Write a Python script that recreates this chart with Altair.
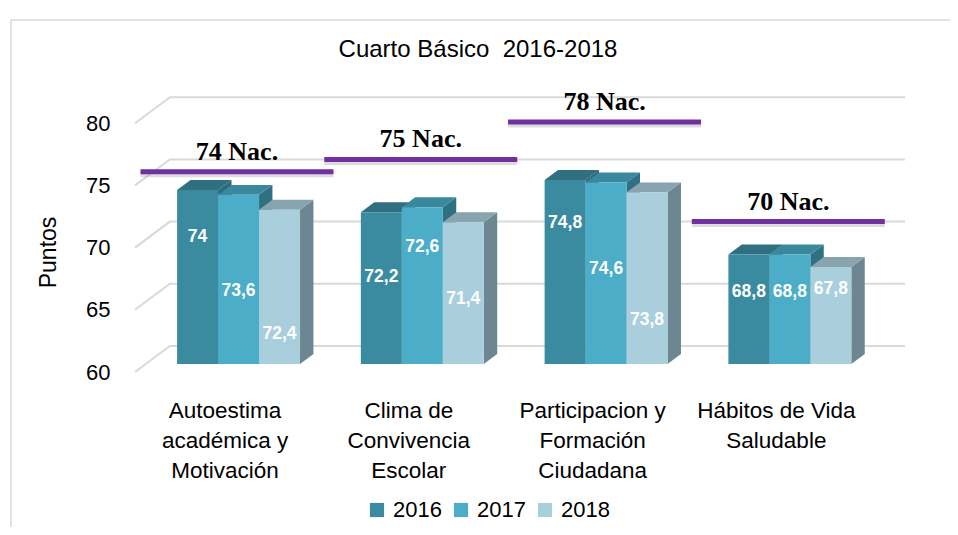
import altair as alt
import pandas as pd

# ---------------- data ----------------
category_lines = [
    "Autoestima\nacadémica y\nMotivación",
    "Clima de\nConvivencia\nEscolar",
    "Participacion y\nFormación\nCiudadana",
    "Hábitos de Vida\nSaludable",
]
years = ["2016", "2017", "2018"]
values_2016 = [74.0, 72.2, 74.8, 68.8]
values_2017 = [73.6, 72.6, 74.6, 68.8]
values_2018 = [72.4, 71.4, 73.8, 67.8]
value_text_2016 = ["74", "72,2", "74,8", "68,8"]
value_text_2017 = ["73,6", "72,6", "74,6", "68,8"]
value_text_2018 = ["72,4", "71,4", "73,8", "67,8"]
# height (in points) at which each value label sits inside its bar
label_at_2016 = [70.2, 67.0, 71.3, 65.8]
label_at_2017 = [65.9, 69.4, 67.6, 65.8]
label_at_2018 = [62.4, 65.2, 63.5, 66.0]
nac_values = [74, 75, 78, 70]
nac_labels = ["74 Nac.", "75 Nac.", "78 Nac.", "70 Nac."]
y_ticks = [60, 65, 70, 75, 80]
title_text = "Cuarto Básico\u00a0 2016-2018"

# ---------------- style / 3D geometry ----------------
SANS = "Liberation Sans, Arial, sans-serif"
SERIF = "Liberation Serif, Times New Roman, serif"
front_col = {"2016": "#3B8BA0", "2017": "#4BADC7", "2018": "#A9CFDD"}
top_col = {"2016": "#2F6F80", "2017": "#3A889D", "2018": "#88A4AE"}
side_col = {"2016": "#2D6A7A", "2017": "#2F7083", "2018": "#6C8692"}
Y0, YMAX, XMAX = 60, 85, 4.19
PLANE_DX, PLANE_DY = 0.06, 0.64      # bar plane offset from floor front
WALL_DX, WALL_DY = 0.19, 2.09        # back wall offset
DEPTH_DX, DEPTH_DY = 0.073, 0.8      # bar depth
GROUP_START, BAR_W = 0.169, 0.223

series_vals = {"2016": values_2016, "2017": values_2017, "2018": values_2018}
series_txt = {"2016": value_text_2016, "2017": value_text_2017, "2018": value_text_2018}
series_lab = {"2016": label_at_2016, "2017": label_at_2017, "2018": label_at_2018}

xs = alt.Scale(domain=[0, XMAX], nice=False, zero=False)
ys = alt.Scale(domain=[Y0, YMAX], nice=False, zero=False)
yaxis = alt.Axis(values=y_ticks, title="Puntos", domain=False, ticks=False, grid=False,
                 labelPadding=25, labelFont=SANS, labelFontSize=22, labelColor="#000000",
                 titleFont=SANS, titleFontSize=23, titleFontWeight="normal", titleColor="#000000",
                 titleX=-87, titleY=191, titleBaseline="middle")


def X(f):
    return alt.X(f"{f}:Q", scale=xs, axis=None)


def Y(f):
    return alt.Y(f"{f}:Q", scale=ys, axis=yaxis)


# gridlines (floor diagonal + back wall)
grid_rows = []
for t in y_ticks:
    grid_rows += [
        {"t": t, "x": 0, "y": t},
        {"t": t, "x": WALL_DX, "y": t + WALL_DY},
        {"t": t, "x": XMAX, "y": t + WALL_DY},
    ]
grid = alt.Chart(pd.DataFrame(grid_rows)).mark_line(color="#D9D9D9", strokeWidth=2).encode(
    x=X("x"), y=Y("y"), detail="t:N", order="x:Q")

one = pd.DataFrame({"a": [0]})
frame_top = alt.Chart(one).mark_rule(stroke="#D9D9D9", strokeWidth=1.5).encode(
    x=alt.value(-124), x2=alt.value(1000), y=alt.value(-41))
frame_left = alt.Chart(one).mark_rule(stroke="#D9D9D9", strokeWidth=1.5).encode(
    x=alt.value(-124), y=alt.value(-41), y2=alt.value(600))
title = alt.Chart(pd.DataFrame({"t": [title_text]})).mark_text(
    font=SANS, fontSize=24, color="#000000", baseline="alphabetic", align="center").encode(
    x=alt.value(343), y=alt.value(-4), text="t:N")

layers = [frame_top, frame_left, title, grid]
label_rows = []
for j, yr in enumerate(years):
    fr, tp, sd = [], [], []
    for i, v in enumerate(series_vals[yr]):
        xl = i + GROUP_START + j * BAR_W + PLANE_DX
        xr = xl + BAR_W
        b = Y0 + PLANE_DY
        h = v + PLANE_DY
        bid = f"b{j}{i}"
        fr.append({"x": xl, "x2": xr, "y": b, "y2": h, "year": yr})
        sd += [
            {"bid": bid, "px": xr, "lo": b, "hi": h},
            {"bid": bid, "px": xr + DEPTH_DX, "lo": b + DEPTH_DY, "hi": h + DEPTH_DY},
        ]
        tp += [
            {"bid": bid, "px": xl, "lo": h, "hi": h},
            {"bid": bid, "px": xl + DEPTH_DX, "lo": h, "hi": h + DEPTH_DY},
            {"bid": bid, "px": xr, "lo": h, "hi": h + DEPTH_DY},
            {"bid": bid, "px": xr + DEPTH_DX, "lo": h + DEPTH_DY, "hi": h + DEPTH_DY},
        ]
        label_rows.append({"x": (xl + xr) / 2, "y": series_lab[yr][i] + PLANE_DY,
                           "txt": series_txt[yr][i]})
    side = alt.Chart(pd.DataFrame(sd)).mark_area(color=side_col[yr], opacity=1).encode(
        x=X("px"), y=Y("lo"), y2="hi:Q", detail="bid:N")
    top = alt.Chart(pd.DataFrame(tp)).mark_area(color=top_col[yr], opacity=1).encode(
        x=X("px"), y=Y("lo"), y2="hi:Q", detail="bid:N")
    front = alt.Chart(pd.DataFrame(fr)).mark_rect().encode(
        x=X("x"), x2="x2:Q", y=Y("y"), y2="y2:Q",
        color=alt.Color("year:N", scale=alt.Scale(domain=years, range=[front_col[y] for y in years]),
                        legend=alt.Legend(orient="none", legendX=231, legendY=438, direction="horizontal",
                                          title=None, symbolType="square", symbolSize=200,
                                          symbolStrokeWidth=0, labelFont=SANS, labelFontSize=22,
                                          labelColor="#000000", columnPadding=8, labelOffset=5,
                                          padding=0)))
    layers += [side, top, front]

nac_df = pd.DataFrame({
    "x": [i + 0.03 for i in range(4)],
    "x2": [i + 1.08 for i in range(4)],
    "xc": [i + 0.555 for i in range(4)],
    "y": [v + WALL_DY for v in nac_values],
    "ys": [v + WALL_DY - 0.2 for v in nac_values],
    "label": nac_labels,
})
nac_shadow = alt.Chart(nac_df).mark_rule(color="#9A9A9A", strokeWidth=6, opacity=0.35).encode(
    x=X("x"), x2="x2:Q", y=Y("ys"))
nac_line = alt.Chart(nac_df).mark_rule(color="#7030A0", strokeWidth=5).encode(
    x=X("x"), x2="x2:Q", y=Y("y"))
nac_text = alt.Chart(nac_df).mark_text(font=SERIF, fontSize=26, fontWeight="bold", color="#000000",
                                       dy=-20, baseline="middle").encode(
    x=X("xc"), y=Y("y"), text="label:N")

bar_text = alt.Chart(pd.DataFrame(label_rows)).mark_text(
    font=SANS, fontSize=17.5, fontWeight="bold", color="#FFFFFF", baseline="middle").encode(
    x=X("x"), y=Y("y"), text="txt:N")

cat_df = pd.DataFrame({"x": [i + 0.49 for i in range(4)], "label": category_lines})
cat_text = alt.Chart(cat_df).mark_text(
    font=SANS, fontSize=22.5, color="#000000", lineBreak="\n", lineHeight=30,
    baseline="alphabetic", align="center").encode(
    x=X("x"), y=alt.value(357), text="label:N")

layers += [nac_shadow, nac_line, nac_text, bar_text, cat_text]

chart = alt.layer(*layers).properties(
    width=770, height=311,
    padding={"left": 127, "top": 53, "right": 45, "bottom": 155},
    autosize="none",
    background="#FFFFFF",
).configure_view(stroke=None)

chart.save("out.html", embed_options={"renderer": "svg", "actions": False})
